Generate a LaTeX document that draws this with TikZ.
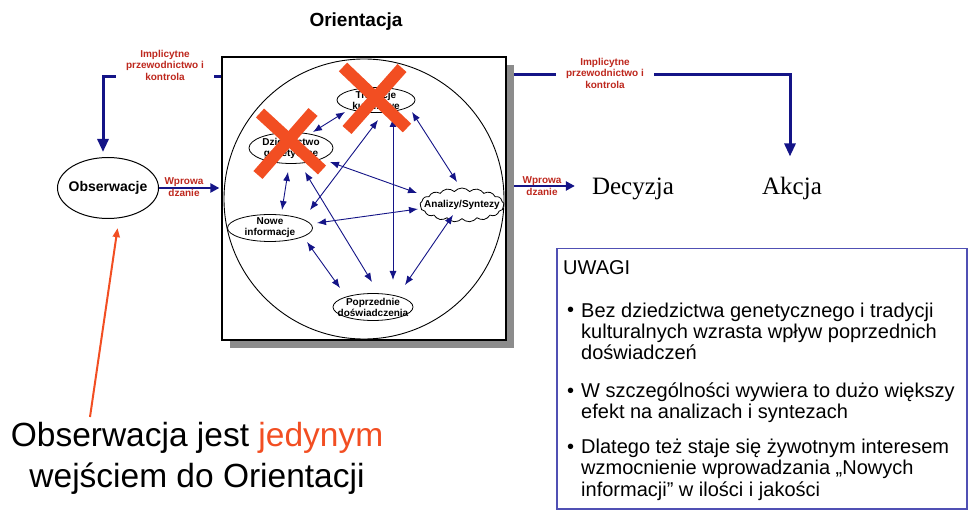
\documentclass[tikz,border=0pt]{standalone}
\usepackage{fontspec}
\setmainfont{Liberation Sans}
\newfontfamily\timesf{Liberation Serif}
\usetikzlibrary{shapes.geometric,shapes.symbols,arrows.meta,shadows,backgrounds,calc}
\definecolor{navy}{RGB}{20,20,135}
\definecolor{lblred}{RGB}{190,40,30}
\definecolor{xred}{RGB}{242,78,34}
\definecolor{uwline}{RGB}{80,80,180}
\definecolor{shadowgray}{RGB}{140,140,140}
\begin{document}
\begin{tikzpicture}[x=1pt,y=-1pt,
  ell/.style={ellipse, draw, line width=0.8pt, inner sep=0pt, fill=white},
  lbl/.style={font=\fontsize{10}{11}\selectfont\bfseries, align=center, inner sep=0pt},
  biarrow/.style={draw=navy, line width=0.9pt, {Latex[length=9pt,width=7pt]}-{Latex[length=9pt,width=7pt]}},
  thickline/.style={draw=navy, line width=3pt},
  redlbl/.style={text=lblred, font=\fontsize{10}{11.5}\selectfont\bfseries, align=center, inner sep=1pt},
  xmark/.style={draw=xred, line width=12pt},
  uwfont/.style={font=\fontsize{20}{21.5}\selectfont, inner sep=0pt},
  serifbig/.style={font=\timesf\fontsize{25}{27}\selectfont, inner sep=0pt, anchor=base},
]
\useasboundingbox (0,0) rectangle (969,510);

\node[font=\fontsize{19}{21}\selectfont\bfseries] (title) at (356,22) {Orientacja};

\node[draw, line width=1.3pt, fill=white, minimum width=284pt, minimum height=283pt, inner sep=0pt,
  drop shadow={shadow xshift=8pt, shadow yshift=-8pt, fill=shadowgray, opacity=1}] (box) at (364,198.5) {};
\node[circle, draw, line width=0.9pt, minimum size=280pt, inner sep=0pt] (orb) at (364,199) {};

\node[ell, minimum width=78pt, minimum height=25pt, label={[lbl]center:Tradycje\\kulturowe}] (trad) at (376,100) {};
\node[ell, minimum width=84pt, minimum height=31pt, label={[lbl]center:Dziedzictwo\\genetyczne}] (dzi) at (291,148) {};
\node[ell, minimum width=85pt, minimum height=27pt, label={[lbl]center:Nowe\\informacje}] (nowe) at (270,228) {};
\node[cloud, draw, line width=0.8pt, cloud puffs=17, cloud puff arc=100, aspect=2.6, minimum width=84pt, minimum height=34pt, inner sep=0pt, fill=white, label={[lbl]center:Analizy/Syntezy}] (anal) at (462,205) {};
\node[ell, minimum width=80pt, minimum height=27pt, label={[lbl]center:Poprzednie\\doświadczenia}] (pop) at (373,307) {};

\draw[biarrow] ($(trad)+(-31,12)$) -- ($(dzi)+(22,-16)$);
\draw[biarrow] ($(trad)+(36,12)$) -- ($(anal)+(-5,-23)$);
\draw[biarrow] ($(trad)+(17,18)$) -- ($(pop)+(20,-27)$);
\draw[biarrow] ($(trad)+(2,20)$) -- ($(nowe)+(40,-18)$);
\draw[biarrow] ($(dzi)+(39,14)$) -- ($(anal)+(-45,-12)$);
\draw[biarrow] ($(dzi)+(-3,24)$) -- ($(nowe)+(12,-18)$);
\draw[biarrow] ($(dzi)+(14,24)$) -- ($(pop)+(-1,-25)$);
\draw[biarrow] ($(nowe)+(47,-5)$) -- ($(anal)+(-44,4)$);
\draw[biarrow] ($(nowe)+(37,14)$) -- ($(pop)+(-33,-19)$);
\draw[biarrow] ($(anal)+(-9,10)$) -- ($(pop)+(32,-22)$);

% outside
\node[ellipse, draw, line width=1pt, minimum width=101pt, minimum height=61pt, inner sep=0pt,
  label={[font=\fontsize{14}{16}\selectfont\bfseries]center:Obserwacje}] (obs) at (108,188) {};
\node[serifbig] (dec) at (633,195) {Decyzja};
\node[serifbig] (akc) at (792,195) {Akcja};

\coordinate (tlc) at (103,77);
\coordinate (trc) at (790,75);
\coordinate (drc) at (600,186);
\begin{pgfonlayer}{background}
\draw[thickline, -{Triangle[length=13pt,width=11pt]}, shorten >=5pt] (box.west |- tlc) -- (tlc) -- (tlc |- obs.north);
\draw[thickline, -{Triangle[length=13pt,width=11pt]}, shorten >=21pt] (box.east |- trc) -- (trc) -- (trc |- akc.north);
\draw[navy, line width=2.5pt, -{Triangle[length=9pt,width=9pt]}, shorten >=2pt] (obs.east) -- (box.west |- obs.east);
\draw[navy, line width=2.5pt, -{Triangle[length=9pt,width=9pt]}, shorten >=17pt] (box.east |- drc) -- (dec.west |- drc);
\end{pgfonlayer}
\node[redlbl, fill=white, inner xsep=10pt] (lblL) at (165,65) {Implicytne\\przewodnictwo i\\kontrola};
\node[redlbl, fill=white, inner xsep=10pt] (lblR) at (605,73) {Implicytne\\przewodnictwo i\\kontrola};
\node[redlbl] (w1) at (184,187) {Wprowa\\dzanie};
\node[redlbl] (w2) at (542,186) {Wprowa\\dzanie};

% red arrow and big text
\coordinate (rs) at (90,417);
\draw[xred, line width=2pt, -{Triangle[length=9pt,width=7pt]}, shorten >=10pt] (rs) -- (obs.-70);
\node[font=\fontsize{33.5}{41}\selectfont, align=center, inner sep=0pt] (big) at (197,458)
  {Obserwacja jest \textcolor{xred}{jedynym}\\wejściem do Orientacji};

% red crosses
\draw[xmark] (343,67) -- (407,128);
\draw[xmark] (402,68) -- (347,130);
\draw[xmark] (260,113) -- (322,170);
\draw[xmark] (313,112) -- (258,175);

% UWAGI box (multi-line nodes: base = last line)
\node[draw=uwline, line width=1.5pt, minimum width=410pt, minimum height=260pt, inner sep=0pt, anchor=north west] (uw) at (556,248) {};
\node[uwfont, anchor=base west] (uwt) at (563,275) {UWAGI};
\node[uwfont, anchor=base west] (bu1) at (567,317) {•};
\node[uwfont, anchor=base west, align=left] (tx1) at (581,360) {Bez dziedzictwa genetycznego i tradycji\\kulturalnych wzrasta wpływ poprzednich\\doświadczeń};
\node[uwfont, anchor=base west] (bu2) at (567,397) {•};
\node[uwfont, anchor=base west, align=left] (tx2) at (581,418.5) {W szczególności wywiera to dużo większy\\efekt na analizach i syntezach};
\node[uwfont, anchor=base west] (bu3) at (567,453) {•};
\node[uwfont, anchor=base west, align=left] (tx3) at (581,496) {Dlatego też staje się żywotnym interesem\\wzmocnienie wprowadzania „Nowych\\informacji” w ilości i jakości};
\end{tikzpicture}
\end{document}
